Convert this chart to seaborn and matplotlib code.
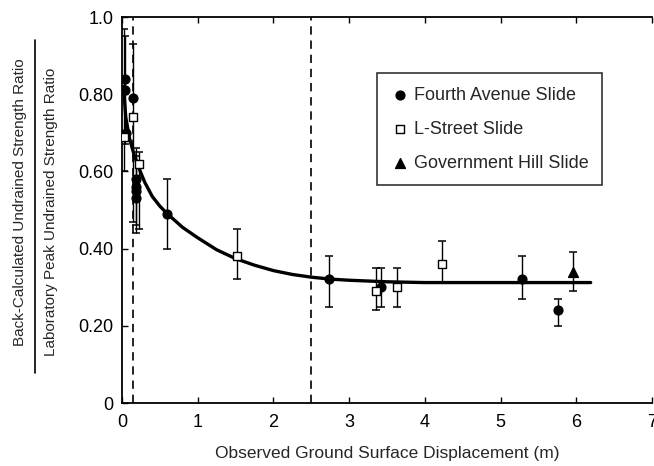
import matplotlib
matplotlib.use("Agg")
import matplotlib.pyplot as plt
import seaborn as sns
import pandas as pd
import numpy as np

sns.set_theme(style="ticks")
plt.rcParams['font.family'] = ['Liberation Sans', 'DejaVu Sans']

# Fourth Avenue Slide (filled circles)
fourth_x = [0.04, 0.04, 0.05, 0.15, 0.18, 0.18, 0.18, 0.18, 0.60, 2.73, 3.42, 5.28, 5.76]
fourth_y = [0.84, 0.81, 0.70, 0.79, 0.58, 0.56, 0.55, 0.53, 0.49, 0.32, 0.30, 0.32, 0.24]
fourth_lo = [np.nan, 0.67, np.nan, np.nan, 0.46, np.nan, 0.44, np.nan, 0.40, 0.25, 0.25, 0.27, 0.20]
fourth_hi = [np.nan, 0.95, np.nan, np.nan, 0.66, np.nan, 0.64, np.nan, 0.58, 0.38, 0.35, 0.38, 0.27]

# L-Street Slide (open squares)
lstreet_x = [0.03, 0.145, 0.22, 1.52, 3.35, 3.63, 4.23]
lstreet_y = [0.69, 0.74, 0.62, 0.38, 0.29, 0.30, 0.36]
lstreet_lo = [0.60, 0.47, 0.45, 0.32, 0.24, 0.25, 0.31]
lstreet_hi = [0.97, 0.93, 0.65, 0.45, 0.35, 0.35, 0.42]

# Government Hill Slide (filled triangle)
govhill_x = [5.95]
govhill_y = [0.34]
govhill_lo = [0.29]
govhill_hi = [0.39]

# fitted trend curve
curve_x = [0.02, 0.05, 0.10, 0.15, 0.20, 0.30, 0.40, 0.50, 0.60, 0.80, 1.00, 1.25,
           1.50, 1.75, 2.00, 2.25, 2.50, 2.75, 3.00, 3.50, 4.00, 5.00, 6.19]
curve_y = [0.82, 0.74, 0.685, 0.65, 0.62, 0.572, 0.535, 0.51, 0.49, 0.455, 0.428, 0.397,
           0.374, 0.357, 0.343, 0.333, 0.326, 0.321, 0.318, 0.314, 0.312, 0.312, 0.312]

dashed_x = [0.14, 2.5]

x_ticks = [0, 1, 2, 3, 4, 5, 6, 7]
y_ticks = [0, 0.2, 0.4, 0.6, 0.8, 1.0]
y_ticklabels = ['0', '0.20', '0.40', '0.60', '0.80', '1.0']

fig = plt.figure(figsize=(6.54, 4.66), dpi=100)
ax = fig.add_axes([122 / 654, 63 / 466, 530 / 654, 386 / 466])

curve = pd.DataFrame({'x': curve_x, 'y': curve_y})
sns.lineplot(data=curve, x='x', y='y', ax=ax, color='black', lw=2.4, legend=False)

for xv in dashed_x:
    ax.axvline(xv, color='black', lw=1.2, ls=(0, (5, 3.5)))

groups = [
    ('Fourth Avenue Slide', fourth_x, fourth_y, fourth_lo, fourth_hi, 'o', 'black', 40),
    ('L-Street Slide', lstreet_x, lstreet_y, lstreet_lo, lstreet_hi, 's', 'white', 30),
    ('Government Hill Slide', govhill_x, govhill_y, govhill_lo, govhill_hi, '^', 'black', 50),
]

for label, xs, ys, lo, hi, mk, fc, sz in groups:
    df = pd.DataFrame({'x': xs, 'y': ys, 'lo': lo, 'hi': hi})
    eb = df.dropna()
    ax.errorbar(eb['x'], eb['y'], yerr=[eb['y'] - eb['lo'], eb['hi'] - eb['y']],
                fmt='none', ecolor='black', elinewidth=1.0, capsize=3, capthick=1.1, zorder=3)
    sns.scatterplot(data=df, x='x', y='y', ax=ax, marker=mk, s=sz, color=fc,
                    edgecolor='black', linewidth=1.0, label=label, zorder=4)

ax.set_xlim(0, 7)
ax.set_ylim(0, 1.0)
ax.set_xticks(x_ticks)
ax.set_yticks(y_ticks)
ax.set_yticklabels(y_ticklabels)
ax.tick_params(direction='in', length=4, width=1, labelsize=13, colors='black',
               top=True, right=False)
ax.tick_params(axis='y', pad=6)
ax.tick_params(axis='x', pad=8)
for s in ax.spines.values():
    s.set_linewidth(1.3)
    s.set_color('black')
ax.spines['right'].set_visible(False)

ax.set_xlabel('Observed Ground Surface Displacement (m)', fontsize=12.5, labelpad=11)
ax.set_ylabel('')

# fraction-style y label
fig.text(20 / 654, 1 - 202 / 466, 'Back-Calculated Undrained Strength Ratio',
         rotation=90, ha='center', va='center', fontsize=11)
fig.text(51 / 654, 1 - 212 / 466, 'Laboratory Peak Undrained Strength Ratio',
         rotation=90, ha='center', va='center', fontsize=11)
fig.add_artist(plt.Line2D([35 / 654, 35 / 654], [1 - 40 / 466, 1 - 373 / 466],
                          color='black', lw=1.2))

leg = ax.legend(loc='upper left', bbox_to_anchor=(377 / 654, 1 - 73 / 466),
                bbox_transform=fig.transFigure, frameon=True, fancybox=False,
                edgecolor='black', fontsize=13, labelspacing=0.95,
                handletextpad=0.3, handlelength=1.0, borderpad=0.75, borderaxespad=0)
leg.get_frame().set_linewidth(1.2)

fig.savefig('out.png', dpi=100)
